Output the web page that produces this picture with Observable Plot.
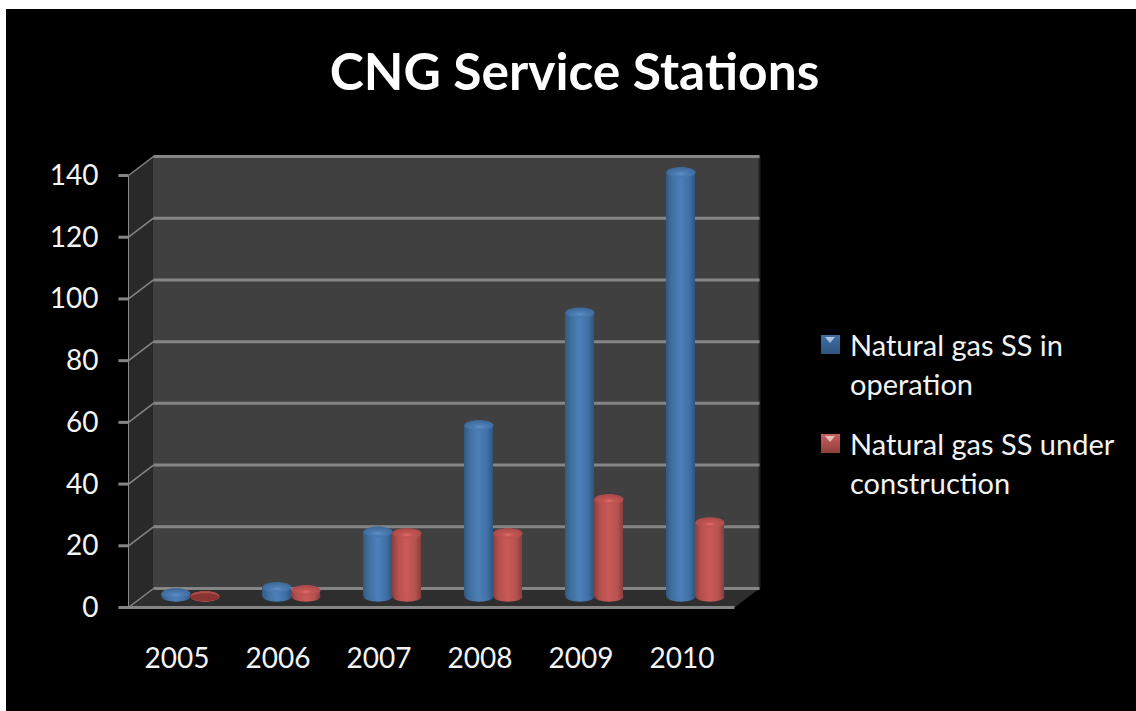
<!DOCTYPE html>
<html><head><meta charset="utf-8">
<script src="https://cdn.jsdelivr.net/npm/d3@7"></script>
<script src="https://cdn.jsdelivr.net/npm/@observablehq/plot@0.6"></script>
<style>
html,body{margin:0;padding:0;background:#fff;width:1136px;height:711px;overflow:hidden}
#panel{position:absolute;left:6px;top:9px;width:1130px;height:702px;background:#000}
#chart{position:absolute;left:0;top:0}
#title{position:absolute;left:0;top:35px;width:1149px;text-align:center;color:#fff;font:700 51.5px Lato,sans-serif;line-height:70px}
.legend{position:absolute;left:850px;color:#f2f2f2;font:400 29px/39px Lato,sans-serif;white-space:nowrap}
.sw{position:absolute;left:821px;width:19px;height:19px;overflow:hidden}
.sw i{position:absolute;left:4px;top:2px;width:0;height:0;border-left:5.5px solid transparent;border-right:5.5px solid transparent;border-top:6px solid rgba(255,255,255,.6)}
</style></head><body>
<div id="panel"></div>
<div id="root"></div>
<script>
const years = ["2005","2006","2007","2008","2009","2010"];
const inOperation = [1, 3, 21, 55.5, 92, 137.5];
const underConstruction = [0.1, 2, 20.5, 20.5, 31.5, 24];
const yTicks = [0, 20, 40, 60, 80, 100, 120, 140];
const seriesNames = ["Natural gas SS in operation", "Natural gas SS under construction"];

const depthX = 0.2475, depthY = 6.16, halfDepthPx = 11.5, floorPx = -11;
const barW = 29 / 101, xMax = years.length;
const rows = (vals, side) => vals.map((v, i) => ({i, v, side}));
const blue = rows(inOperation, -1), red = rows(underConstruction, 1);
const x1Of = d => d.side < 0 ? d.i + .5 - barW : d.i + .5;
const x2Of = d => d.side < 0 ? d.i + .5 : d.i + .5 + barW;
const cxOf = d => (x1Of(d) + x2Of(d)) / 2;

const gridColor = "#858585";
const ellipse = ratio => ({draw(ctx, size) {
  const rx = Math.sqrt(size / Math.PI), ry = rx * ratio, k = 0.5523;
  ctx.moveTo(-rx, 0);
  ctx.bezierCurveTo(-rx, -ry * k, -rx * k, -ry, 0, -ry);
  ctx.bezierCurveTo(rx * k, -ry, rx, -ry * k, rx, 0);
  ctx.bezierCurveTo(rx, ry * k, rx * k, ry, 0, ry);
  ctx.bezierCurveTo(-rx * k, ry, -rx, ry * k, -rx, 0);
  ctx.closePath();
}});
const cyl = ellipse(0.36);

function defs() {
  const d = d3.create("svg:defs");
  const lin = (id, stops) => {
    const g = d.append("linearGradient").attr("id", id).attr("x1", 0).attr("x2", 1).attr("y1", 0).attr("y2", 0);
    stops.forEach(([o, c]) => g.append("stop").attr("offset", o).attr("stop-color", c));
  };
  const rad = (id, stops) => {
    const g = d.append("radialGradient").attr("id", id).attr("cx", .5).attr("cy", .65).attr("r", .6);
    stops.forEach(([o, c]) => g.append("stop").attr("offset", o).attr("stop-color", c));
  };
  lin("blueSide", [[0, "#32597f"], [.2, "#40709f"], [.5, "#4d7fb9"], [.8, "#3f70a6"], [1, "#30557c"]]);
  lin("redSide", [[0, "#8c3f3d"], [.2, "#b5504e"], [.5, "#c95a58"], [.8, "#b55250"], [1, "#8a3d3b"]]);
  rad("blueTop", [[0, "#5f91c9"], [.3, "#4d7eb6"], [1, "#3d6898"]]);
  rad("redTop", [[0, "#e06f6c"], [.3, "#c45654"], [1, "#a84a48"]]);
  return d.node();
}

function cylinder(data, side, top) {
  return [
    Plot.dot(data, {x: cxOf, y: 0, r: 14.5, symbol: cyl, fill: `url(#${side})`, stroke: "none", dx: halfDepthPx, dy: floorPx}),
    Plot.rect(data, {x1: x1Of, x2: x2Of, y1: 0, y2: d => d.v, fill: `url(#${side})`, dx: halfDepthPx, dy: floorPx}),
    Plot.dot(data, {x: cxOf, y: d => d.v, r: 14.5, symbol: cyl, fill: `url(#${top})`, stroke: "none", dx: halfDepthPx, dy: floorPx})
  ];
}

const chart = Plot.plot({
  width: 1136, height: 711,
  marginLeft: 128, marginRight: 402, marginTop: 175, marginBottom: 104,
  style: {background: "transparent", color: "#f2f2f2", fontFamily: "Lato, sans-serif", overflow: "visible"},
  x: {domain: [0, xMax], range: [128, 734], label: null},
  y: {domain: [0, 140], range: [607, 175], label: null},
  marks: [
    defs,
    Plot.line([[0, 0], [depthX, depthY], [depthX, 140 + depthY], [0, 140]], {x: "0", y: "1", fill: "#292929", stroke: "none"}),
    Plot.rect([0], {x1: depthX, x2: xMax + depthX, y1: depthY, y2: 140 + depthY, fill: "#404040"}),
    Plot.link([0], {x1: xMax + depthX, x2: xMax + depthX, y1: depthY, y2: 140 + depthY, stroke: "#222", strokeWidth: 2}),
    Plot.line([[0, 0], [depthX, depthY], [xMax + depthX, depthY], [xMax, 0]], {x: "0", y: "1", fill: "#2e2e2e", stroke: "none"}),
    Plot.link(yTicks, {x1: depthX, x2: xMax + depthX, y1: d => d + depthY, y2: d => d + depthY, stroke: gridColor, strokeWidth: 3}),
    Plot.link(yTicks, {x1: 0, x2: depthX, y1: d => d, y2: d => d + depthY, stroke: gridColor, strokeWidth: 1.5}),
    Plot.link(yTicks.filter(d => d > 0), {x1: -0.1, x2: 0, y1: d => d, y2: d => d, stroke: gridColor, strokeWidth: 3}),
    Plot.link([0], {x1: -0.1, x2: xMax, y1: 0, y2: 0, stroke: gridColor, strokeWidth: 3}),
    Plot.link([0], {x1: 0, x2: 0, y1: 0, y2: 140, stroke: "#8a8a8a", strokeWidth: 1}),
    ...cylinder(blue, "blueSide", "blueTop"),
    ...cylinder(red, "redSide", "redTop"),
    Plot.dot(red.filter(d => d.v < 0.5), {x: cxOf, y: d => d.v, r: 14.5, symbol: ellipse(0.27), fill: "#8a3533", stroke: "none", dx: halfDepthPx, dy: floorPx + 1}),
    Plot.axisY(yTicks, {anchor: "left", tickSize: 0, tickPadding: 30, fontSize: 28, label: null, fill: "#f4f4f4", dy: 0.5}),
    Plot.axisX(years.map((y, i) => i + .5), {anchor: "bottom", tickSize: 0, tickPadding: 40, fontSize: 28, label: null, fill: "#f4f4f4", dx: -2, dy: 1, tickFormat: v => years[v - .5]})
  ]
});
chart.id = "chart";
const page = document.getElementById("root");
page.appendChild(chart);

const add = (cls, text, style) => {
  const el = document.createElement("div");
  if (cls) el.className = cls;
  if (text) el.textContent = text;
  Object.assign(el.style, style || {});
  page.appendChild(el);
  return el;
};
add("", "CNG Service Stations").id = "title";
const entry = (name, top, bg) => {
  const s = add("sw", "", {top: top + "px", background: bg});
  s.appendChild(document.createElement("i"));
  add("legend", name, {top: (top - 10) + "px", width: "280px", whiteSpace: "normal"});
};
entry(seriesNames[0], 335, "linear-gradient(#3d6ea6,#2f5580)");
entry(seriesNames[1], 434, "linear-gradient(#c8605e,#8f3e3c)");
</script>
</body></html>
